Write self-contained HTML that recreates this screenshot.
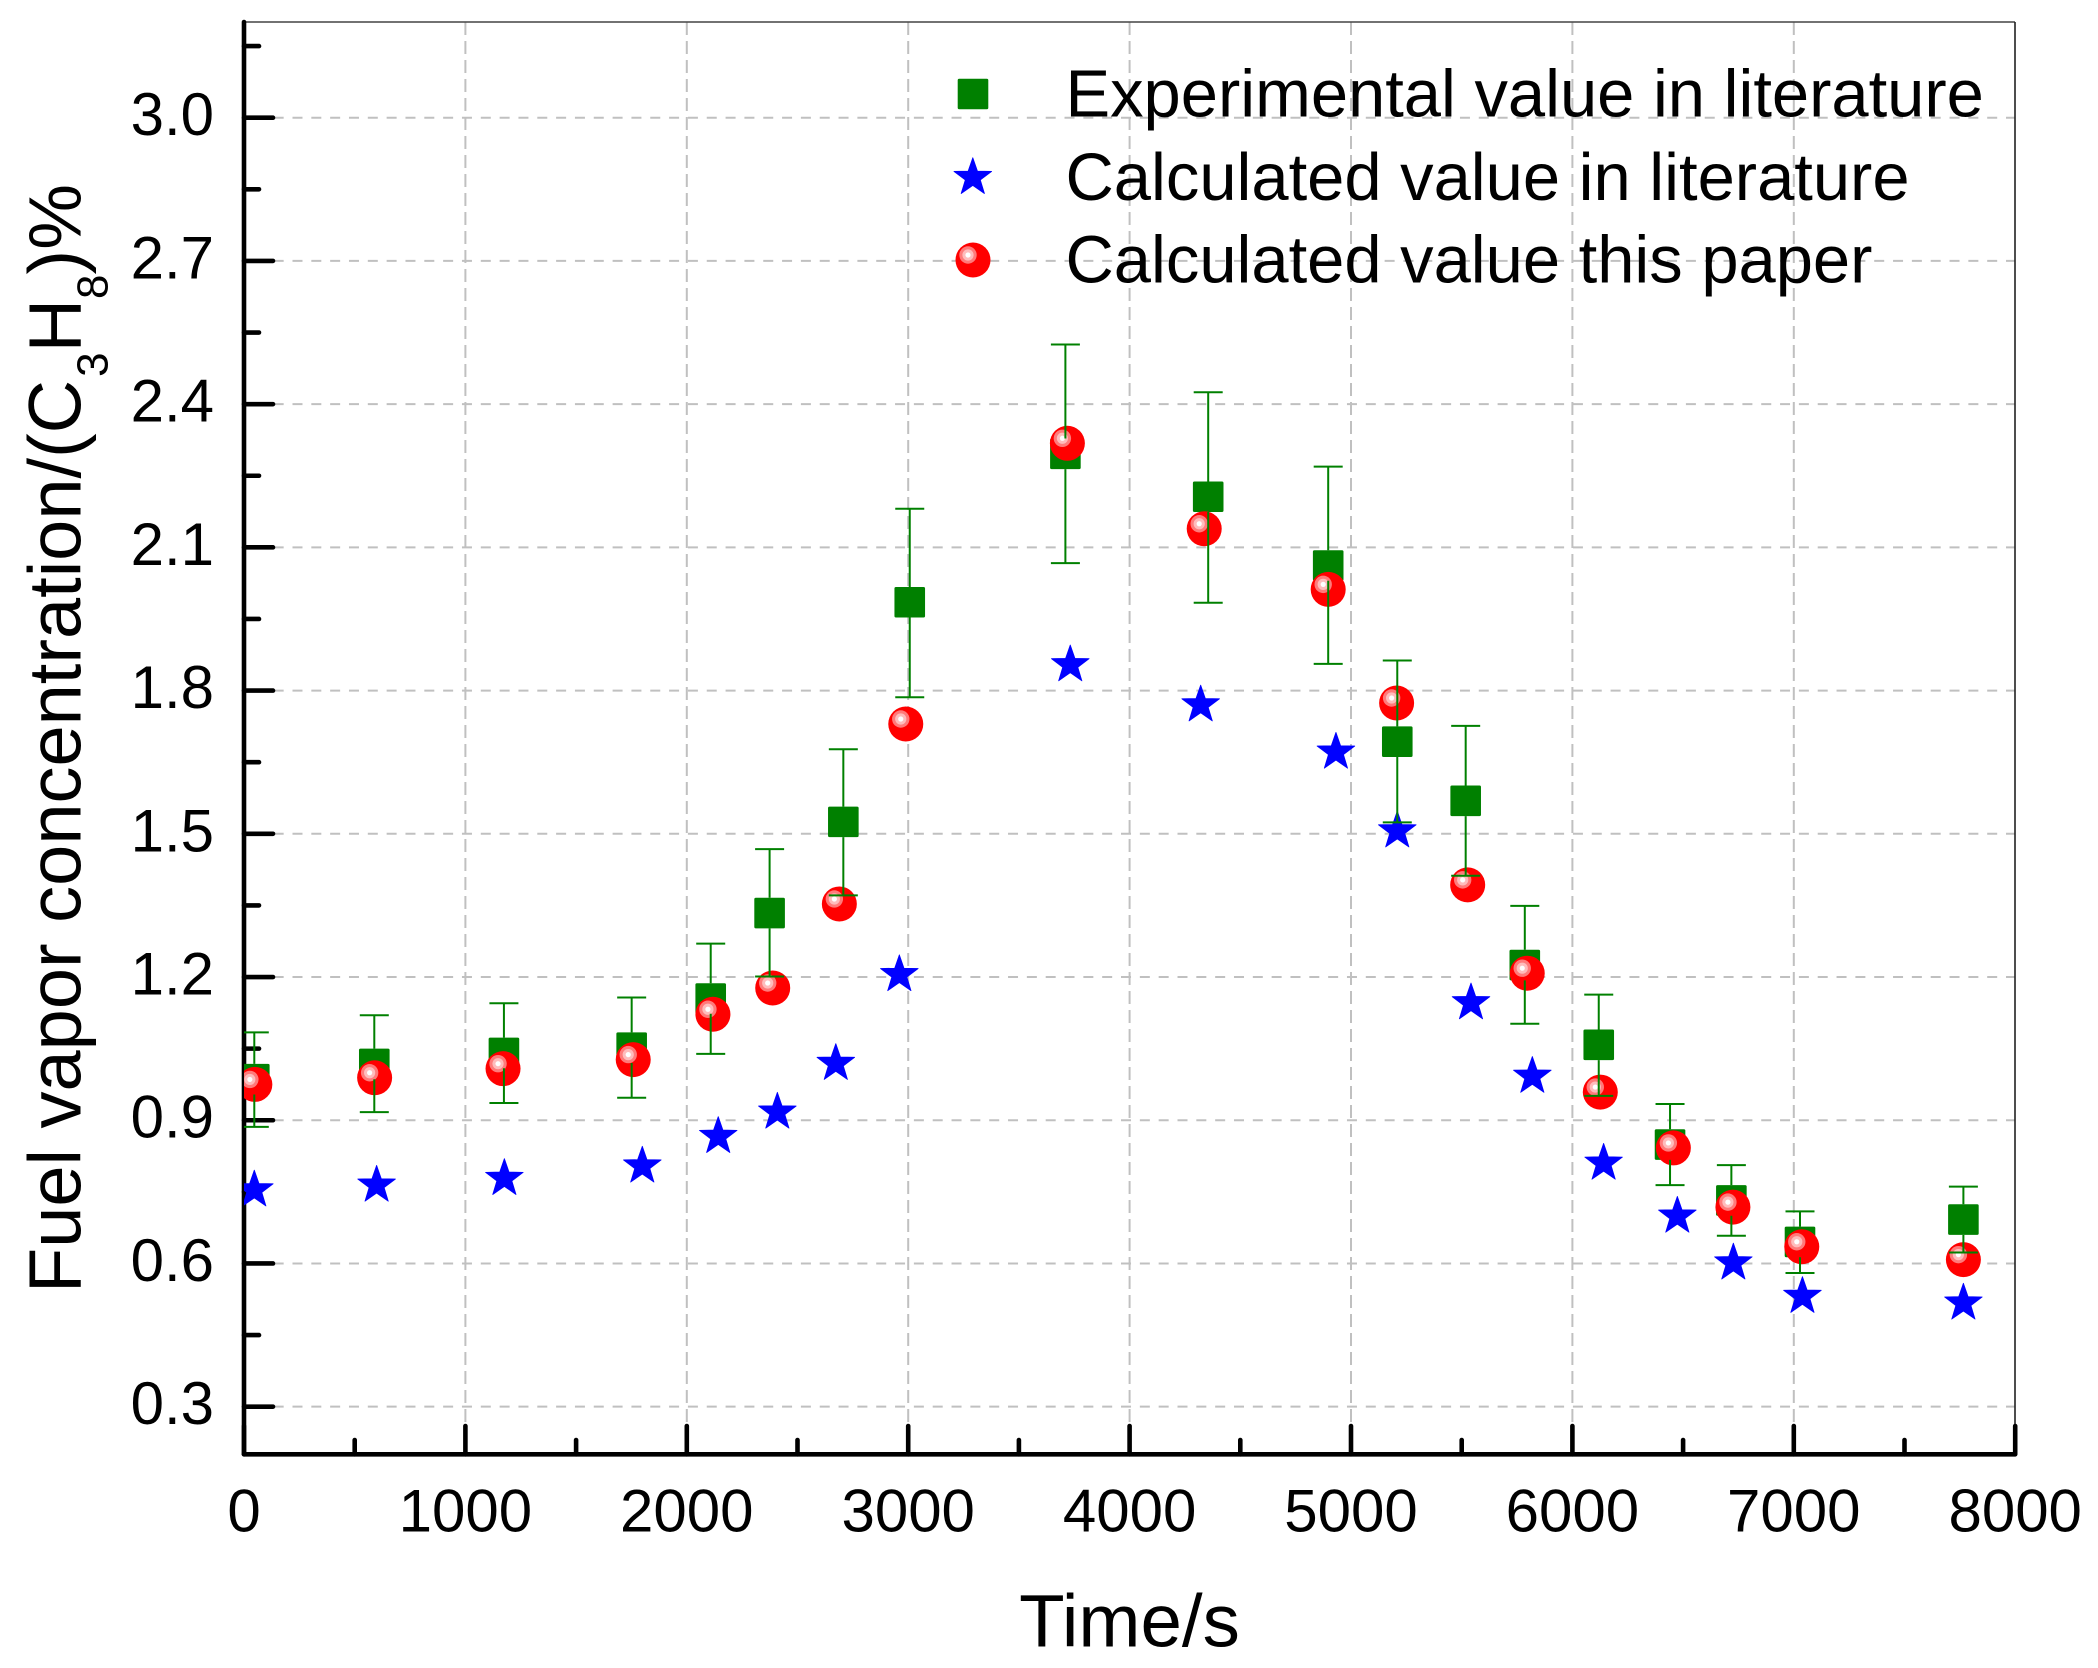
<!DOCTYPE html>
<html lang="en">
<head>
<meta charset="utf-8">
<title>Fuel vapor concentration over time</title>
<style>
html,body{margin:0;padding:0;background:#fff;}
svg{display:block;}
text{font-family:"Liberation Sans",Arial,sans-serif;fill:#000;}
</style>
</head>
<body>
<svg id="chart" xmlns="http://www.w3.org/2000/svg" width="2098" height="1668" viewBox="0 0 2098 1668">
  <rect x="0" y="0" width="2098" height="1668" fill="#fff"/>
  <defs>
    <clipPath id="plot-clip"><rect x="244" y="20" width="1775" height="1436"/></clipPath>
  </defs>
  <g id="grid"></g>
  <g id="frame"></g>
  <g id="axes"></g>
  <g id="marks" clip-path="url(#plot-clip)"></g>
  <text transform="translate(80.5,1293) rotate(-90)" font-size="74">Fuel vapor concentration/(C<tspan font-size="44" dx="3" dy="27">3</tspan><tspan dy="-27">H</tspan><tspan font-size="44" dy="27">8</tspan><tspan dy="-27">)%</tspan></text>
  <text x="1129.5" y="1646.5" font-size="74.5" text-anchor="middle">Time/s</text>
  <g id="legend">
    <text x="1065.5" y="116.7" font-size="66.9">Experimental value in literature</text>
    <text x="1065.5" y="200" font-size="66.9">Calculated value in literature</text>
    <text x="1065.5" y="282.7" font-size="66.9">Calculated value this paper</text>
  </g>
</svg>
<script>
var xTicks = [0, 1000, 2000, 3000, 4000, 5000, 6000, 7000, 8000];
var xMinorTicks = [500, 1500, 2500, 3500, 4500, 5500, 6500, 7500];
var yTicks = [0.3, 0.6, 0.9, 1.2, 1.5, 1.8, 2.1, 2.4, 2.7, 3.0];
var yMinorTicks = [0.45, 0.75, 1.05, 1.35, 1.65, 1.95, 2.25, 2.55, 2.85, 3.15];
var yTickLabels = ['0.3', '0.6', '0.9', '1.2', '1.5', '1.8', '2.1', '2.4', '2.7', '3.0'];
var xTickLabels = ['0', '1000', '2000', '3000', '4000', '5000', '6000', '7000', '8000'];

var expTime = [46.5, 588.5, 1174, 1751, 2108, 2374, 2707, 3007, 3710, 4355, 4897, 5209, 5518, 5785, 6119, 6441, 6718, 7028, 7766];
var expValue = [0.986, 1.018, 1.041, 1.052, 1.155, 1.334, 1.525, 1.985, 2.296, 2.206, 2.062, 1.693, 1.569, 1.225, 1.058, 0.849, 0.732, 0.645, 0.692];
var expUpper = [1.084, 1.120, 1.145, 1.157, 1.270, 1.468, 1.677, 2.181, 2.525, 2.425, 2.269, 1.863, 1.726, 1.349, 1.163, 0.934, 0.806, 0.709, 0.761];
var expLower = [0.886, 0.917, 0.936, 0.947, 1.039, 1.201, 1.371, 1.786, 2.067, 1.984, 1.856, 1.524, 1.412, 1.102, 0.951, 0.764, 0.658, 0.580, 0.623];

var litTime = [46.5, 599, 1176, 1799, 2142, 2409, 2673, 2960, 3732, 4321, 4932, 5209, 5542, 5819, 6141, 6474, 6727, 7039, 7766];
var litValue = [0.754, 0.764, 0.778, 0.804, 0.866, 0.917, 1.019, 1.205, 1.854, 1.770, 1.671, 1.506, 1.146, 0.992, 0.810, 0.699, 0.601, 0.531, 0.517];

var paperTime = [49, 590, 1170, 1758, 2118, 2388, 2689, 2989, 3719, 4337, 4897, 5206, 5527, 5796, 6126, 6456, 6725, 7036, 7766];
var paperValue = [0.975, 0.989, 1.008, 1.027, 1.122, 1.177, 1.353, 1.730, 2.318, 2.139, 2.012, 1.774, 1.393, 1.208, 0.959, 0.842, 0.718, 0.635, 0.608];

var NS = 'http://www.w3.org/2000/svg';
function X(v) { return 244 + v * 0.2214; }
function Y(v) { return 117.7 + (3.0 - v) * 477.4; }
function make(tag, attrs, parent) {
  var e = document.createElementNS(NS, tag);
  for (var k in attrs) { e.setAttribute(k, attrs[k]); }
  parent.appendChild(e);
  return e;
}
function starPoints(cx, cy, R) {
  var r = R * 0.4, pts = [];
  for (var i = 0; i < 10; i++) {
    var a = -Math.PI / 2 + i * Math.PI / 5;
    var rad = i % 2 === 0 ? R : r;
    pts.push((cx + rad * Math.cos(a)).toFixed(2) + ',' + (cy + rad * Math.sin(a)).toFixed(2));
  }
  return pts.join(' ');
}
var SQ = 30.6;
function drawSquare(cx, cy, parent) {
  return make('rect', {x: cx - SQ / 2, y: cy - SQ / 2, width: SQ, height: SQ, rx: 1.5, fill: '#008000'}, parent);
}
function drawStar(cx, cy, parent) {
  return make('polygon', {points: starPoints(cx, cy, 19.8), fill: '#0000ff', stroke: '#0000ff', 'stroke-width': 0.8, 'stroke-linejoin': 'round'}, parent);
}
function drawBall(cx, cy, parent) {
  var g = make('g', {}, parent);
  make('circle', {cx: cx, cy: cy, r: 17.5, fill: '#ff0000'}, g);
  make('circle', {cx: cx - 5, cy: cy - 5, r: 8.7, fill: '#ff7a7a'}, g);
  make('circle', {cx: cx - 5, cy: cy - 5, r: 5.6, fill: '#ffbcbc'}, g);
  make('circle', {cx: cx - 5, cy: cy - 5, r: 2.6, fill: '#ffffff'}, g);
  return g;
}

var gridG = document.getElementById('grid');
var frameG = document.getElementById('frame');
var axesG = document.getElementById('axes');
var marksG = document.getElementById('marks');
var legendG = document.getElementById('legend');

yTicks.forEach(function (t) {
  var l = make('line', {x1: 244, x2: 2015, y1: Y(t), y2: Y(t), stroke: '#c0c0c0', 'stroke-width': 2, 'stroke-dasharray': '10 8.83', 'stroke-dashoffset': 8}, gridG);
  
  
});
xTicks.slice(1, -1).forEach(function (t) {
  var l = make('line', {x1: X(t), x2: X(t), y1: 22, y2: 1454, stroke: '#c0c0c0', 'stroke-width': 2, 'stroke-dasharray': '13 6', 'stroke-dashoffset': 0}, gridG);
  
  
});

var topLine = make('line', {x1: 244, x2: 2015, y1: 22, y2: 22, stroke: '#444', 'stroke-width': 1.6}, frameG);


var rightLine = make('line', {x1: 2015, x2: 2015, y1: 22, y2: 1454, stroke: '#222', 'stroke-width': 1.6}, frameG);



var axisStyle = {stroke: '#000', 'stroke-width': 4.6, 'stroke-linecap': 'round'};
function line(x1, y1, x2, y2) {
  var a = {x1: x1, y1: y1, x2: x2, y2: y2};
  for (var k in axisStyle) { a[k] = axisStyle[k]; }
  return make('line', a, axesG);
}
var yAxis = line(244, 22, 244, 1454.3);


var xAxis = line(244, 1454.3, 2015, 1454.3);



yTicks.forEach(function (t, i) {
  var m = line(244, Y(t), 273, Y(t));
  
  
  var lab = make('text', {x: 214, y: Y(t) + 17.5, 'font-size': 60, 'text-anchor': 'end'}, axesG);
  lab.textContent = yTickLabels[i];
  
  
});
yMinorTicks.forEach(function (t) {
  var m = line(244, Y(t), 259, Y(t));
  
  
});
xTicks.forEach(function (t, i) {
  var m = line(X(t), 1454.3, X(t), 1426);
  
  
  var lab = make('text', {x: X(t), y: 1531.7, 'font-size': 60, 'text-anchor': 'middle'}, axesG);
  lab.textContent = xTickLabels[i];
  
  
});
xMinorTicks.forEach(function (t) {
  var m = line(X(t), 1454.3, X(t), 1440);
  
  
});

expTime.forEach(function (t, i) {
  var s = drawSquare(X(t), Y(expValue[i]), marksG);
  
  
});
litTime.forEach(function (t, i) {
  var s = drawStar(X(t), Y(litValue[i]), marksG);
  
  
});
paperTime.forEach(function (t, i) {
  var s = drawBall(X(t), Y(paperValue[i]), marksG);
  
  
});
expTime.forEach(function (t, i) {
  var x = X(t), yc = Y(expValue[i]), yu = Y(expUpper[i]), yl = Y(expLower[i]);
  var p = 'M' + x + ' ' + yu + 'V' + (yc - SQ / 2) +
          'M' + x + ' ' + (yc + SQ / 2) + 'V' + yl +
          'M' + (x - 14.5) + ' ' + yu + 'H' + (x + 14.5) +
          'M' + (x - 14.5) + ' ' + yl + 'H' + (x + 14.5);
  var e = make('path', {d: p, stroke: '#008000', 'stroke-width': 2, fill: 'none'}, marksG);
  
  
});

var ls = drawSquare(973, 94, legendG);


var lst = drawStar(972.8, 177.5, legendG);


var lc = drawBall(973, 260, legendG);


</script>
</body>
</html>
